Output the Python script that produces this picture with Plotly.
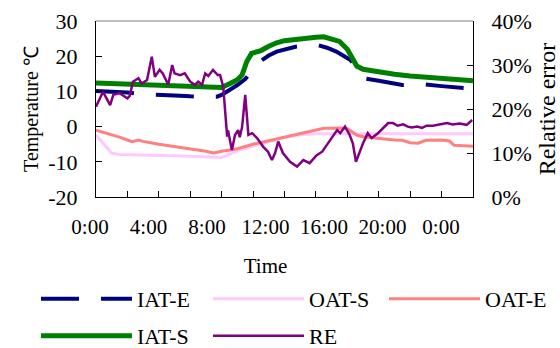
import plotly.graph_objects as go

FONT = "Liberation Serif, 'Times New Roman', Times, serif"

# ---------------- data (hours since 0:00) ----------------
iat_e_t = [0, 1, 2, 3, 4, 5, 6, 7, 7.7, 8, 8.5, 9, 9.5, 9.7, 10, 10.4, 11, 11.5, 12, 12.7,
           13.4, 14.1, 14.7, 15.3, 15.8, 16.2, 16.6, 17.1, 18, 19, 19.5, 20.2, 20.9, 22, 23, 23.4, 24]
iat_e = [10.1, 9.9, 9.7, 9.2, 8.9, 8.8, 8.6, 8.5, 8.5, 9.0, 10.3, 11.8, 13.5, 14.4, 16.0, 18.4,
         20.2, 21.3, 22.0, 22.7, 23.0, 23.2, 22.4, 21.3, 20.0, 18.9, 16.5, 13.7, 13.0, 12.3, 11.8,
         11.9, 12.0, 11.5, 11.1, 10.9, 10.7]

oat_s_t = [0, 0.5, 1.0, 1.5, 2, 3, 4, 5, 6, 7, 7.5, 8, 8.5, 9, 10, 11, 12, 13, 14, 15, 16, 18,
           20, 22, 24]
oat_s = [-2.4, -5.0, -7.6, -7.9, -8.0, -8.1, -8.2, -8.3, -8.5, -8.7, -8.9, -8.8, -7.8, -6.8,
         -5.5, -4.3, -3.1, -2.3, -2.0, -2.0, -2.0, -2.0, -2.0, -2.0, -2.0]

oat_e_t = [0, 0.5, 1, 1.5, 2, 2.3, 2.7, 3, 4, 5, 6, 7, 7.5, 8, 9, 10, 11, 12, 13, 14, 14.5, 15,
           15.5, 16, 16.6, 17, 18, 19, 19.5, 20, 20.5, 21, 22, 22.5, 22.8, 23.5, 24]
oat_e = [-1.0, -1.6, -2.3, -3.0, -3.8, -4.3, -3.8, -4.2, -5.0, -5.6, -6.3, -7.0, -7.5, -7.0,
         -6.3, -5.0, -4.0, -3.0, -1.8, -0.8, -0.5, -0.5, -0.4, -0.6, -2.4, -2.9, -3.4, -3.8,
         -3.9, -4.6, -4.7, -3.9, -3.8, -4.1, -5.3, -5.6, -5.6]

iat_s_t = [0, 1, 2, 3, 4, 5, 6, 7, 7.5, 8, 8.5, 9, 9.3, 9.6, 9.9, 10.5, 11, 11.5, 12, 12.5, 13,
           13.5, 14, 14.5, 15, 15.5, 16, 16.3, 16.6, 17, 18, 19, 20, 21, 22, 23, 24]
iat_s = [12.4, 12.2, 12.0, 11.9, 11.7, 11.5, 11.3, 11.1, 11.0, 11.1, 12.2, 13.3, 14.7, 18.5,
         20.8, 21.6, 22.8, 23.8, 24.4, 24.7, 25.1, 25.2, 25.4, 25.5, 25.0, 24.2, 22.0, 19.5,
         17.2, 16.3, 15.5, 14.9, 14.4, 14.0, 13.6, 13.3, 13.0]

re_t = [0, 0.45, 0.9, 1.1, 1.5, 2.0, 2.15, 2.35, 2.7, 2.9, 3.25, 3.55, 3.75, 4.05, 4.25, 4.6,
        4.85, 5.0, 5.35, 5.65, 6.0, 6.3, 6.5, 6.75, 6.95, 7.15, 7.45, 7.75, 7.9, 8.1, 8.35, 8.4,
        8.65, 8.85, 9.05, 9.15, 9.3, 9.5, 9.7, 9.95, 10.25, 10.65, 10.95, 11.2, 11.4, 11.6, 11.9,
        12.35, 12.8, 13.2, 13.6, 14.05, 14.4, 14.7, 15.1, 15.35, 15.55, 15.85, 16.15, 16.35,
        16.55, 17.0, 17.3, 17.55, 17.95, 18.25, 18.6, 18.9, 19.2, 19.55, 19.85, 20.1, 20.45,
        20.75, 21.05, 21.45, 21.9, 22.35, 22.7, 23.15, 23.6, 23.95]
re = [20.5, 23.9, 20.9, 23.2, 23.6, 22.4, 23.0, 26.2, 27.0, 25.8, 26.6, 31.9, 27.3, 28.9, 28.1,
      25.5, 30.0, 28.1, 27.7, 28.1, 26.2, 25.5, 26.2, 25.5, 28.1, 27.5, 28.9, 27.7, 27.7, 25.0,
      13.7, 15.2, 10.7, 14.1, 15.2, 13.6, 15.9, 23.2, 14.1, 14.5, 13.4, 11.4, 10.3, 8.4, 10.0,
      12.6, 10.0, 8.0, 6.9, 8.4, 7.7, 9.5, 10.3, 11.8, 13.7, 15.2, 14.5, 16.0, 14.1, 12.2, 8.0,
      12.2, 14.5, 13.4, 14.5, 15.5, 16.8, 16.8, 16.2, 16.5, 16.0, 15.8, 16.0, 15.7, 16.2, 16.2,
      16.5, 16.8, 16.5, 16.7, 16.4, 17.5]

x_tick_vals = [0, 4, 8, 12, 16, 20, 24]
x_tick_labels = ["0:00", "4:00", "8:00", "12:00", "16:00", "20:00", "0:00"]
x_minor_ticks = [0, 2, 4, 6, 8, 10, 12, 14, 16, 18, 20, 22, 24]
y_ticks = [-20, -10, 0, 10, 20, 30]
y_tick_labels = ["-20", "-10", "0", "10", "20", "30"]
y2_ticks = [0, 10, 20, 30, 40]
y2_tick_labels = ["0%", "10%", "20%", "30%", "40%"]

# ---------------- layout geometry ----------------
W, H = 560, 348
ML, MR, MT, MB = 80, 87, 21, 151
PW = W - ML - MR
main_dom = [(96 - ML) / PW, 1.0]
lab_dom = [(90 - ML) / PW, (441 - ML) / PW]

fig = go.Figure()
fig.add_trace(go.Scatter(x=iat_e_t, y=iat_e, name="IAT-E", mode="lines",
                         line=dict(color="#000080", width=4, dash="38px,22px"), legend="legend"))
fig.add_trace(go.Scatter(x=oat_s_t, y=oat_s, name="OAT-S", mode="lines",
                         line=dict(color="#FFC8FF", width=3), legend="legend"))
fig.add_trace(go.Scatter(x=oat_e_t, y=oat_e, name="OAT-E", mode="lines",
                         line=dict(color="#FF8080", width=3), legend="legend3"))
fig.add_trace(go.Scatter(x=iat_s_t, y=iat_s, name="IAT-S", mode="lines",
                         line=dict(color="#008000", width=5), legend="legend2"))
fig.add_trace(go.Scatter(x=re_t, y=re, name="RE", mode="lines", yaxis="y2",
                         line=dict(color="#800080", width=2.5), legend="legend2"))
# empty helper trace so that the label-only time axis (x2) is rendered
fig.add_trace(go.Scatter(x=[x_tick_vals[0], x_tick_vals[-1]], y=[None, None], xaxis="x2",
                         yaxis="y", mode="lines", showlegend=False, hoverinfo="skip"))

x_font = dict(family=FONT, size=21, color="black")
y_font = dict(family=FONT, size=22, color="black")

leg_common = dict(orientation="h", xref="container", yref="container", xanchor="left",
                  yanchor="middle", font=y_font, itemwidth=91, entrywidth=66,
                  bgcolor="rgba(0,0,0,0)")

fig.update_layout(
    width=W, height=H,
    margin=dict(l=ML, r=MR, t=MT, b=MB, pad=0, autoexpand=False),
    paper_bgcolor="white", plot_bgcolor="rgba(0,0,0,0)",
    font=dict(family=FONT, size=22, color="black"),
    showlegend=True,
    xaxis=dict(domain=main_dom, range=[0, 24], tickvals=x_minor_ticks, showticklabels=False,
               ticks="inside", ticklen=6, tickcolor="black", showline=True, linecolor="black",
               linewidth=1, showgrid=False, zeroline=False, anchor="y"),
    xaxis2=dict(domain=lab_dom, range=[0, 24], tickvals=x_tick_vals, ticktext=x_tick_labels,
                anchor="y", showline=False, ticks="", showgrid=False, zeroline=False,
                tickfont=x_font, ticklabelstandoff=15,
                title=dict(text="Time", font=x_font, standoff=32)),
    yaxis=dict(range=[-20, 30], tickvals=y_ticks, ticktext=y_tick_labels, ticks="inside",
               ticklen=6, tickcolor="black", showline=True, linecolor="black", linewidth=1,
               showgrid=False, zeroline=False, tickfont=y_font, ticklabelstandoff=13, anchor="x",
               title=dict(text="Temperature ℃", font=dict(family=FONT, size=20, color="black"),
                          standoff=4)),
    yaxis2=dict(range=[0, 40], tickvals=y2_ticks, ticktext=y2_tick_labels, overlaying="y",
                side="right", anchor="x", ticks="inside", ticklen=6, tickcolor="black",
                showline=True, linecolor="black", linewidth=1, showgrid=False, zeroline=False,
                tickfont=y_font, ticklabelstandoff=13,
                title=dict(text="Relative error", font=dict(family=FONT, size=24, color="black"),
                           standoff=30)),
    legend=dict(leg_common, x=36 / W, y=1 - 299 / H),
    legend3=dict(leg_common, x=384 / W, y=1 - 299 / H),
    legend2=dict(leg_common, x=36 / W, y=1 - 336 / H),
    shapes=[dict(type="line", xref="x domain", yref="y domain", x0=0, x1=1, y0=1, y1=1,
                 line=dict(color="#808080", width=1))],
)

fig.write_html("out.html")
